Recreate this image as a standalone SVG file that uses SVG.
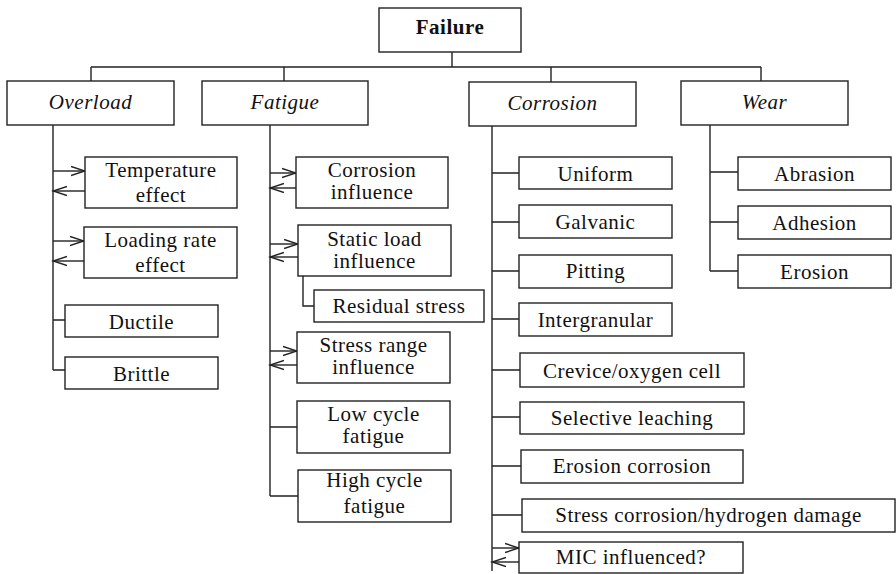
<svg xmlns="http://www.w3.org/2000/svg" width="896" height="574" viewBox="0 0 896 574">
<style>
rect{fill:#fff;stroke:#222;stroke-width:1.4}
.c path,.c line{fill:none;stroke:#222;stroke-width:1.4}
text{font-family:"Liberation Serif","Times New Roman",serif;font-size:21px;letter-spacing:0.5px;fill:#111;text-anchor:middle}
.i{font-style:italic}
.b{font-weight:bold}
</style>
<defs>
<marker id="ah" markerUnits="userSpaceOnUse" markerWidth="16" markerHeight="12" viewBox="0 0 16 12" refX="14" refY="6" orient="auto">
<path d="M0,1.5 L14,6 L0,10.5" fill="none" stroke="#222" stroke-width="1.4"/>
</marker>
</defs>
<g class="c" id="connectors">
<path d="M452,52 V67 M91,67 H761 M91,67 V81 M284,67 V81 M551,67 V82 M761,67 V81"/>
<path d="M53,125 V370 M53,320 H65 M53,370 H65"/>
<line x1="53" y1="171" x2="85" y2="171" marker-end="url(#ah)"/>
<line x1="85" y1="191" x2="53" y2="191" marker-end="url(#ah)"/>
<line x1="53" y1="241" x2="84" y2="241" marker-end="url(#ah)"/>
<line x1="84" y1="261" x2="53" y2="261" marker-end="url(#ah)"/>
<path d="M270,125 V496 M270,427 H297 M270,496 H298 M303,276 V306 H314"/>
<line x1="270" y1="173" x2="296" y2="173" marker-end="url(#ah)"/>
<line x1="296" y1="188" x2="270" y2="188" marker-end="url(#ah)"/>
<line x1="270" y1="244" x2="298" y2="244" marker-end="url(#ah)"/>
<line x1="298" y1="257" x2="270" y2="257" marker-end="url(#ah)"/>
<line x1="270" y1="351" x2="297" y2="351" marker-end="url(#ah)"/>
<line x1="297" y1="365" x2="270" y2="365" marker-end="url(#ah)"/>
<path d="M492,126 V571 M492,173 H519 M492,222 H519 M492,271 H519 M492,319 H519 M492,370 H520 M492,417 H520 M492,466 H521 M492,515 H522"/>
<line x1="492" y1="548" x2="519" y2="548" marker-end="url(#ah)"/>
<line x1="519" y1="562" x2="492" y2="562" marker-end="url(#ah)"/>
<path d="M710,125 V271 M710,172 H738 M710,222 H738 M710,271 H738"/>
</g>
<g id="failure"><rect x="379" y="8" width="142" height="44"/><text class="b" x="450" y="34">Failure</text></g>
<g id="overload"><rect x="7" y="81" width="167" height="44"/><text class="i" x="90.5" y="109">Overload</text></g>
<g id="fatigue"><rect x="202" y="81" width="166" height="44"/><text class="i" x="285" y="109">Fatigue</text></g>
<g id="corrosion"><rect x="469" y="82" width="167" height="44"/><text class="i" x="552.5" y="110">Corrosion</text></g>
<g id="wear"><rect x="681" y="81" width="167" height="44"/><text class="i" x="764.5" y="109">Wear</text></g>
<g id="temperature"><rect x="85" y="157" width="152" height="51"/><text x="161" y="177">Temperature</text><text x="161" y="202">effect</text></g>
<g id="loadingrate"><rect x="84" y="227" width="153" height="51"/><text x="160.5" y="247">Loading rate</text><text x="160.5" y="272">effect</text></g>
<g id="ductile"><rect x="65" y="305" width="153" height="32"/><text x="141.5" y="329">Ductile</text></g>
<g id="brittle"><rect x="65" y="357" width="153" height="32"/><text x="141.5" y="381">Brittle</text></g>
<g id="corrinfl"><rect x="296" y="157" width="152" height="51"/><text x="372" y="177">Corrosion</text><text x="372" y="199">influence</text></g>
<g id="staticload"><rect x="298" y="225" width="153" height="51"/><text x="374.5" y="246">Static load</text><text x="374.5" y="268">influence</text></g>
<g id="residual"><rect x="314" y="290" width="170" height="32"/><text x="399" y="313">Residual stress</text></g>
<g id="stressrange"><rect x="297" y="332" width="153" height="51"/><text x="373.5" y="352">Stress range</text><text x="373.5" y="374">influence</text></g>
<g id="lowcycle"><rect x="297" y="401" width="153" height="52"/><text x="373.5" y="421">Low cycle</text><text x="373.5" y="443">fatigue</text></g>
<g id="highcycle"><rect x="298" y="470" width="153" height="52"/><text x="374.5" y="487">High cycle</text><text x="374.5" y="513">fatigue</text></g>
<g id="uniform"><rect x="519" y="157" width="153" height="32"/><text x="595.5" y="181">Uniform</text></g>
<g id="galvanic"><rect x="519" y="205" width="153" height="33"/><text x="595.5" y="229">Galvanic</text></g>
<g id="pitting"><rect x="519" y="255" width="153" height="33"/><text x="595.5" y="278">Pitting</text></g>
<g id="intergranular"><rect x="519" y="303" width="153" height="33"/><text x="595.5" y="327">Intergranular</text></g>
<g id="crevice"><rect x="520" y="353" width="224" height="34"/><text x="632" y="378">Crevice/oxygen cell</text></g>
<g id="selective"><rect x="520" y="402" width="224" height="32"/><text x="632" y="425">Selective leaching</text></g>
<g id="erosioncorr"><rect x="521" y="450" width="222" height="33"/><text x="632" y="473">Erosion corrosion</text></g>
<g id="stresscorr"><rect x="522" y="499" width="373" height="33"/><text x="708.5" y="522">Stress corrosion/hydrogen damage</text></g>
<g id="mic"><rect x="519" y="542" width="224" height="31"/><text x="631" y="564">MIC influenced?</text></g>
<g id="abrasion"><rect x="738" y="157" width="153" height="33"/><text x="814.5" y="181">Abrasion</text></g>
<g id="adhesion"><rect x="738" y="206" width="153" height="33"/><text x="814.5" y="230">Adhesion</text></g>
<g id="erosion"><rect x="738" y="255" width="153" height="33"/><text x="814.5" y="279">Erosion</text></g>
</svg>
